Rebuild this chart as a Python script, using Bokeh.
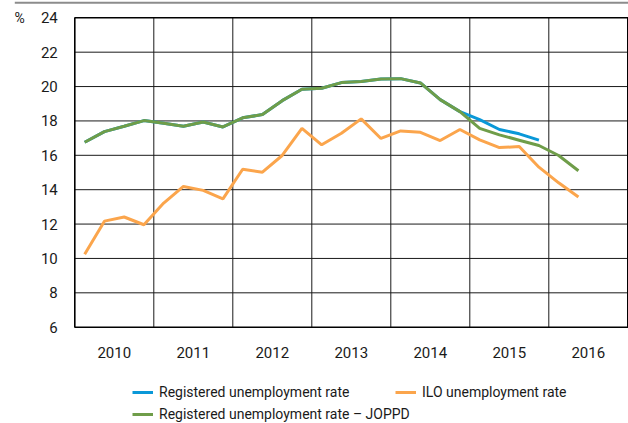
from bokeh.plotting import figure
from bokeh.models import FixedTicker, Legend, LegendItem, Range1d, LinearAxis
from bokeh.embed import file_html
from bokeh.resources import INLINE

years = [2010, 2011, 2012, 2013, 2014, 2015, 2016]
year_labels = ["2010", "2011", "2012", "2013", "2014", "2015", "2016"]
quarters = [f"{y}Q{q}" for y in years for q in (1, 2, 3, 4)]

# Registered unemployment rate – JOPPD (green)
joppd = [16.76, 17.38, 17.69, 18.02, 17.86, 17.69, 17.94, 17.65,
         18.18, 18.37, 19.18, 19.84, 19.90, 20.23, 20.30, 20.44,
         20.46, 20.21, 19.24, 18.54, 17.57, 17.19, 16.88, 16.57,
         15.99, 15.10]
# Registered unemployment rate (blue)
registered = [16.76, 17.38, 17.69, 18.02, 17.86, 17.69, 17.94, 17.65,
              18.18, 18.37, 19.18, 19.84, 19.90, 20.23, 20.30, 20.44,
              20.46, 20.21, 19.24, 18.54, 18.08, 17.50, 17.25, 16.88]
# ILO unemployment rate (orange)
ilo = [10.24, 12.17, 12.41, 11.96, 13.22, 14.19, 13.96, 13.47,
       15.19, 15.02, 15.99, 17.57, 16.61, 17.28, 18.12, 16.98,
       17.42, 17.34, 16.86, 17.50, 16.90, 16.45, 16.51, 15.31,
       14.40, 13.57]

y_ticks = [6, 8, 10, 12, 14, 16, 18, 20, 22, 24]
unit_label = "%"


def qx(q):
    return int(q[:4]) + (int(q[-1]) - 0.5) / 4


FONT = "Roboto"
TXT = "#1a1a1a"
C_BLUE = "#0a98d8"
C_ORANGE = "#fba54c"
C_GREEN = "#6f9d49"

# canvas geometry (pixels) of the plotting box inside the 628x423 canvas
W, H = 628, 423
BOX_L, BOX_R, BOX_T, BOX_B = 74.3, 627.3, 17.3, 326.7
x0, x1 = years[0], years[-1] + 1
y0, y1 = y_ticks[0], y_ticks[-1]
kx = (BOX_R - BOX_L) / (x1 - x0)
ky = (BOX_B - BOX_T) / (y1 - y0)

p = figure(width=W, height=H, output_backend="svg", toolbar_location=None,
           x_range=Range1d(x0 - BOX_L / kx, x1 + (W - BOX_R) / kx),
           y_range=Range1d(y0 - (H - BOX_B) / ky, y1 + BOX_T / ky),
           min_border_left=0, min_border_right=0, min_border_top=0,
           min_border_bottom=0)
p.outline_line_color = None
p.background_fill_color = "white"
p.border_fill_color = "white"
p.xgrid.visible = False
p.ygrid.visible = False

# grid lines and plot box
inner_years = years[1:]
p.segment(x0=inner_years, x1=inner_years, y0=[y0] * len(inner_years),
          y1=[y1] * len(inner_years), line_color="#1a1a1a", line_width=1)
inner_y = y_ticks[1:-1]
p.segment(x0=[x0] * len(inner_y), x1=[x1] * len(inner_y), y0=inner_y,
          y1=inner_y, line_color="#1a1a1a", line_width=1)
p.quad(left=[x0], right=[x1], bottom=[y0], top=[y1], fill_color=None,
       line_color="black", line_width=1.6)

# thin grey rule at the very top
p.segment(x0=[x0 - 60 / kx], x1=[x1 + 5 / kx], y0=[y1 + 15 / ky],
          y1=[y1 + 15 / ky], line_color="#8c8c8c", line_width=2)

# axes drawn at the plot box edges
p.xaxis.fixed_location = y0
p.xaxis.ticker = FixedTicker(ticks=[y + 0.5 for y in years])
p.xaxis.major_label_overrides = {y + 0.5: l for y, l in zip(years, year_labels)}
p.yaxis.fixed_location = x0
p.yaxis.ticker = FixedTicker(ticks=y_ticks)

unit_axis = LinearAxis(ticker=FixedTicker(ticks=[y_ticks[-1]]),
                       major_label_overrides={y_ticks[-1]: unit_label},
                       fixed_location=x0)
p.add_layout(unit_axis, "left")

for ax in (p.xaxis[0], p.yaxis[0], unit_axis):
    ax.axis_line_color = None
    ax.major_tick_line_color = None
    ax.minor_tick_line_color = None
    ax.major_label_text_font = FONT
    ax.major_label_text_font_size = "15px"
    ax.major_label_text_color = TXT
p.xaxis.major_label_standoff = 14
p.yaxis[0].major_label_standoff = 11
unit_axis.major_label_standoff = 44
unit_axis.major_label_text_font_size = "14px"

xq = [qx(q) for q in quarters]
r_blue = p.line(xq[:len(registered)], registered, line_color=C_BLUE, line_width=3)
r_ilo = p.line(xq[:len(ilo)], ilo, line_color=C_ORANGE, line_width=3)
r_green = p.line(xq[:len(joppd)], joppd, line_color=C_GREEN, line_width=3)


def mk_legend(label, r, loc):
    lg = Legend(items=[LegendItem(label=label, renderers=[r])],
                location=loc, orientation="horizontal", padding=0,
                margin=0, spacing=0,
                border_line_color=None, background_fill_alpha=0,
                label_text_font=FONT, label_text_font_size="14px",
                label_text_color=TXT,
                glyph_width=21, glyph_height=18, label_height=18,
                label_standoff=6)
    p.add_layout(lg)
    return lg


mk_legend("Registered unemployment rate", r_blue, (132, 22))
mk_legend("ILO unemployment rate", r_ilo, (395, 22))
mk_legend("Registered unemployment rate \u2013 JOPPD", r_green, (132, 0))

open("out.html", "w").write(file_html(p, INLINE))
